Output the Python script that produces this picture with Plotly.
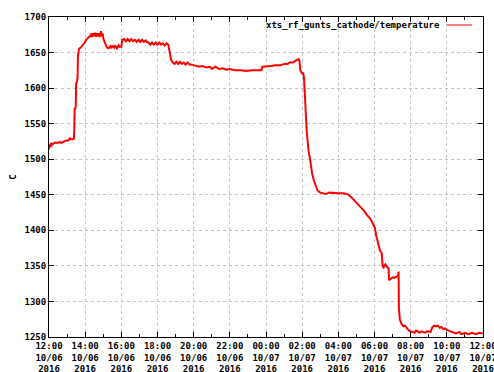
import plotly.graph_objects as go
import pandas as pd

# hours after 2016-10-06 12:00 and temperature values
hours = [0.00, 0.04, 0.08, 0.12, 0.20, 0.30, 0.45, 0.60, 0.70, 0.80, 0.90, 1.00, 1.05, 1.10, 1.15, 1.20, 1.30, 1.38,
         1.40, 1.42, 1.45, 1.48, 1.50, 1.55, 1.58, 1.60, 1.65, 1.75, 1.85, 1.95, 2.05, 2.15, 2.25,
         2.30, 2.35, 2.40, 2.45, 2.50, 2.55, 2.60, 2.65, 2.70, 2.75, 2.80, 2.85, 2.88, 2.92, 2.97,
         3.00, 3.10, 3.20, 3.30, 3.40, 3.45, 3.50, 3.60, 3.65, 3.75, 3.85, 3.90, 4.00,
         4.05, 4.15, 4.25, 4.35, 4.45, 4.55, 4.65, 4.75, 4.85, 4.95, 5.05, 5.15, 5.25, 5.35, 5.45,
         5.50, 5.60, 5.70, 5.80, 5.90, 6.00, 6.10, 6.20, 6.30, 6.40, 6.50, 6.60,
         6.70, 6.75, 6.85, 6.95, 7.05, 7.15, 7.25, 7.35, 7.45, 7.55, 7.65, 7.80,
         7.90, 8.10, 8.30, 8.50, 8.70, 8.90, 9.00, 9.20, 9.40, 9.60, 9.80, 10.00, 10.30, 10.60, 10.90, 11.20, 11.50, 11.75,
         11.80, 12.00, 12.30, 12.50, 12.80, 13.00, 13.20, 13.30, 13.50, 13.60, 13.70, 13.80, 13.85,
         13.90, 14.00, 14.05, 14.10, 14.15, 14.20, 14.25, 14.35, 14.45, 14.55, 14.65, 14.75, 14.85,
         15.00, 15.30, 15.50, 15.80, 16.00, 16.30, 16.50, 16.70, 16.85, 17.00, 17.20, 17.40, 17.60, 17.75, 17.90,
         18.03, 18.10, 18.20, 18.30, 18.40, 18.45, 18.50, 18.60, 18.70, 18.78, 18.80, 18.90, 19.00, 19.10, 19.20, 19.30, 19.33,
         19.35, 19.40, 19.50, 19.60, 19.70, 19.80, 19.90, 20.00, 20.20, 20.30, 20.50, 20.60, 20.80, 20.90, 21.10,
         21.20, 21.30, 21.40, 21.50, 21.60, 21.70, 21.80, 21.90, 22.00, 22.10, 22.20, 22.40, 22.50, 22.70, 22.80,
         23.00, 23.20, 23.40, 23.60, 23.80, 24.00]
temps = [1514, 1521, 1517, 1522, 1521, 1523, 1523, 1524, 1523, 1525, 1526, 1526, 1527, 1527, 1530, 1528, 1528, 1529,
         1545, 1572, 1570, 1575, 1606, 1610, 1615, 1645, 1655, 1657, 1660, 1663, 1668, 1671, 1673,
         1673, 1677, 1672, 1677, 1673, 1678, 1672, 1677, 1673, 1677, 1672, 1678, 1680, 1673, 1677,
         1670, 1662, 1657, 1656, 1659, 1656, 1660, 1657, 1660, 1656, 1660, 1658, 1658,
         1668, 1669, 1666, 1669, 1666, 1669, 1666, 1668, 1665, 1668, 1665, 1668, 1665, 1667, 1664,
         1664, 1661, 1664, 1661, 1664, 1661, 1664, 1661, 1663, 1660, 1663, 1661,
         1650, 1640, 1636, 1634, 1637, 1634, 1637, 1634, 1636, 1633, 1636, 1633,
         1633, 1631, 1630, 1631, 1629, 1630, 1627, 1630, 1627, 1628, 1626, 1627, 1625, 1625, 1624, 1625, 1625, 1625,
         1630, 1630, 1631, 1632, 1632, 1634, 1634, 1636, 1636, 1638, 1640, 1641, 1638,
         1625, 1620, 1622, 1615, 1580, 1565, 1540, 1512, 1498, 1480, 1470, 1462, 1456,
         1453, 1451, 1453, 1452, 1452, 1452, 1451, 1447, 1443, 1438, 1434, 1428, 1421, 1417, 1410,
         1403, 1392, 1380, 1372, 1368, 1350, 1348, 1352, 1348, 1347, 1330, 1332, 1334, 1333, 1335, 1336, 1342,
         1290, 1275, 1268, 1265, 1266, 1262, 1259, 1258, 1256, 1259, 1256, 1258, 1256, 1258, 1257,
         1264, 1266, 1265, 1266, 1263, 1264, 1261, 1262, 1260, 1259, 1258, 1257, 1255, 1257, 1254,
         1256, 1254, 1256, 1254, 1256, 1255]

series_name = "xts_rf_gunts_cathode/temperature"
start = pd.Timestamp("2016-10-06 12:00")
end = pd.Timestamp("2016-10-07 12:00")
tick_times = pd.date_range(start, end, freq="2h")
tick_labels = [t.strftime("%H:%M<br>%m/%d<br>%Y") for t in tick_times]
y_ticks = [1250, 1300, 1350, 1400, 1450, 1500, 1550, 1600, 1650, 1700]

times = [start + pd.Timedelta(hours=h) for h in hours]

fnt = dict(family="DejaVu Sans Mono", size=9, color="black", weight="bold")

fig = go.Figure()
fig.add_trace(go.Scatter(x=times, y=temps, mode="lines", name=series_name,
                         line=dict(color="#ff0000", width=2), showlegend=False))

fig.update_layout(
    width=494, height=372,
    margin=dict(l=49, r=11, t=17, b=35),
    plot_bgcolor="white", paper_bgcolor="white",
    font=fnt,
    showlegend=False,
    xaxis=dict(type="date", range=[start, end], tickvals=tick_times, ticktext=tick_labels,
               tickfont=fnt, showline=True, linecolor="black", linewidth=1, mirror="ticks",
               ticks="inside", ticklen=5, tickcolor="black", ticklabeloverflow="allow",
               showgrid=True, gridcolor="#c4c4c4", griddash="dot", gridwidth=1,
               minor=dict(dtick=3600000, ticks="inside", ticklen=3, tickcolor="black", showgrid=False),
               zeroline=False, automargin=False),
    yaxis=dict(range=[1250, 1700], tickvals=y_ticks, tickfont=fnt,
               showline=True, linecolor="black", linewidth=1, mirror="ticks",
               ticks="inside", ticklen=5, tickcolor="black",
               showgrid=True, gridcolor="#c4c4c4", griddash="dot", gridwidth=1,
               zeroline=False, automargin=False,
               title=dict(text="C", font=fnt, standoff=6)),
)

fig.add_annotation(text=series_name, xref="paper", yref="paper", x=0.905, y=0.975,
                   xanchor="right", yanchor="middle", showarrow=False, font=fnt)
fig.add_shape(type="line", xref="paper", yref="paper", x0=0.917, x1=0.975, y0=0.975, y1=0.975,
              line=dict(color="#ff8080", width=2))

fig.write_html("out.html")
